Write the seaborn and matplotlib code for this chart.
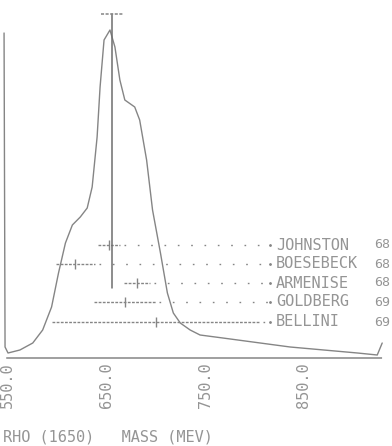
import matplotlib
matplotlib.use("Agg")
import matplotlib.pyplot as plt
import seaborn as sns
import pandas as pd

# Ideogram curve (arbitrary height units) versus mass in MeV
curve_mass = [1547, 1548, 1551, 1563, 1576, 1586, 1595, 1602, 1609, 1616, 1624,
              1631, 1636, 1641, 1644, 1648, 1654, 1659, 1664, 1669, 1679, 1684,
              1691, 1697, 1705, 1712, 1718, 1725, 1735, 1745, 1768, 1836, 1904,
              1924, 1929]
curve_height = [325, 11, 5, 8, 15, 28, 51, 85, 115, 133, 141,
                150, 171, 221, 271, 318, 328, 311, 278, 258, 251, 238,
                198, 148, 105, 65, 45, 35, 28, 23, 20, 11, 5,
                3, 15]

# Individual measurements
experiments = ["JOHNSTON", "BOESEBECK", "ARMENISE", "GOLDBERG", "BELLINI"]
years = ["68", "68", "68", "69", "69"]
meas_mass = [1653, 1619, 1681, 1669, 1700]
meas_err = [11, 20, 13, 31, 105]
row_height = [113, 94, 75, 56, 36]

# Weighted average
avg_mass = 1656
avg_err = 11.5
avg_line = [70, 344]

tick_values = [1550, 1650, 1750, 1850]
tick_labels = ["550.0", "650.0", "750.0", "850.0"]
axis_title = "RHO (1650)   MASS (MEV)"

sns.set_theme(style="white")
plt.rcParams["font.family"] = ["DejaVu Sans Mono", "DejaVu Sans"]

ink = "#858585"
dark_ink = "#6e6e6e"
text_ink = "#959595"
fs = 11

fig = plt.figure(figsize=(3.92, 4.46), dpi=100)
ax = fig.add_axes([0, 88 / 446, 1, 358 / 446])
ax.set_xlim(1542.9, 1938.9)
ax.set_ylim(0, 358)
ax.patch.set_alpha(0)

curve = pd.DataFrame({"mass": curve_mass, "height": curve_height})
sns.lineplot(data=curve, x="mass", y="height", sort=False, ax=ax,
             color=ink, lw=1.0, estimator=None)

meas = pd.DataFrame({"name": experiments, "year": years, "mass": meas_mass,
                     "err": meas_err, "h": row_height})

name_x = 1821.7
year_x = 1920.5
for _, r in meas.iterrows():
    lo, hi = r["mass"] - r["err"], r["mass"] + r["err"]
    ax.plot([lo, hi], [r["h"], r["h"]], color=ink, lw=1.0,
            linestyle=(0, (2, 1)))
    # dotted leader from the bar to the experiment name
    if hi + 4 < name_x - 6:
        ax.plot([hi + 4, name_x - 6], [r["h"], r["h"]], color=ink, lw=1.0,
                linestyle=(0, (1.2, 8.4)))
    ax.plot([name_x - 6], [r["h"]], marker=".", ms=2, color=ink)
    ax.text(name_x, r["h"], r["name"], ha="left", va="center",
            fontsize=fs, color=text_ink)
    ax.text(year_x, r["h"], r["year"], ha="left", va="center",
            fontsize=9.5, color=text_ink)

sns.scatterplot(data=meas, x="mass", y="h", marker="|", s=60, color=ink,
                linewidth=1.0, ax=ax, legend=False)

# weighted average: vertical line with horizontal error cap on top
ax.plot([avg_mass, avg_mass], avg_line, color=dark_ink, lw=1.1)
ax.plot([avg_mass - avg_err, avg_mass + avg_err], [avg_line[1], avg_line[1]],
        color=ink, lw=1.1, linestyle=(0, (2, 1)))

for side in ["top", "right", "left"]:
    ax.spines[side].set_visible(False)
ax.spines["bottom"].set_bounds(1550, 1929)
ax.spines["bottom"].set_color(ink)
ax.spines["bottom"].set_linewidth(1.1)
ax.spines["bottom"].set_linestyle((0, (2, 1)))

ax.set_xticks(tick_values)
ax.set_xticklabels(tick_labels, rotation=90, fontsize=fs, color=text_ink)
ax.tick_params(axis="x", length=2, width=1, color=ink, direction="in", pad=3)
ax.set_yticks([])
ax.set_xlabel("")
ax.set_ylabel("")

fig.text(3 / 392, 1 - 437 / 446, axis_title, ha="left", va="center",
         fontsize=fs, color=text_ink)

fig.savefig("out.png", dpi=100)
